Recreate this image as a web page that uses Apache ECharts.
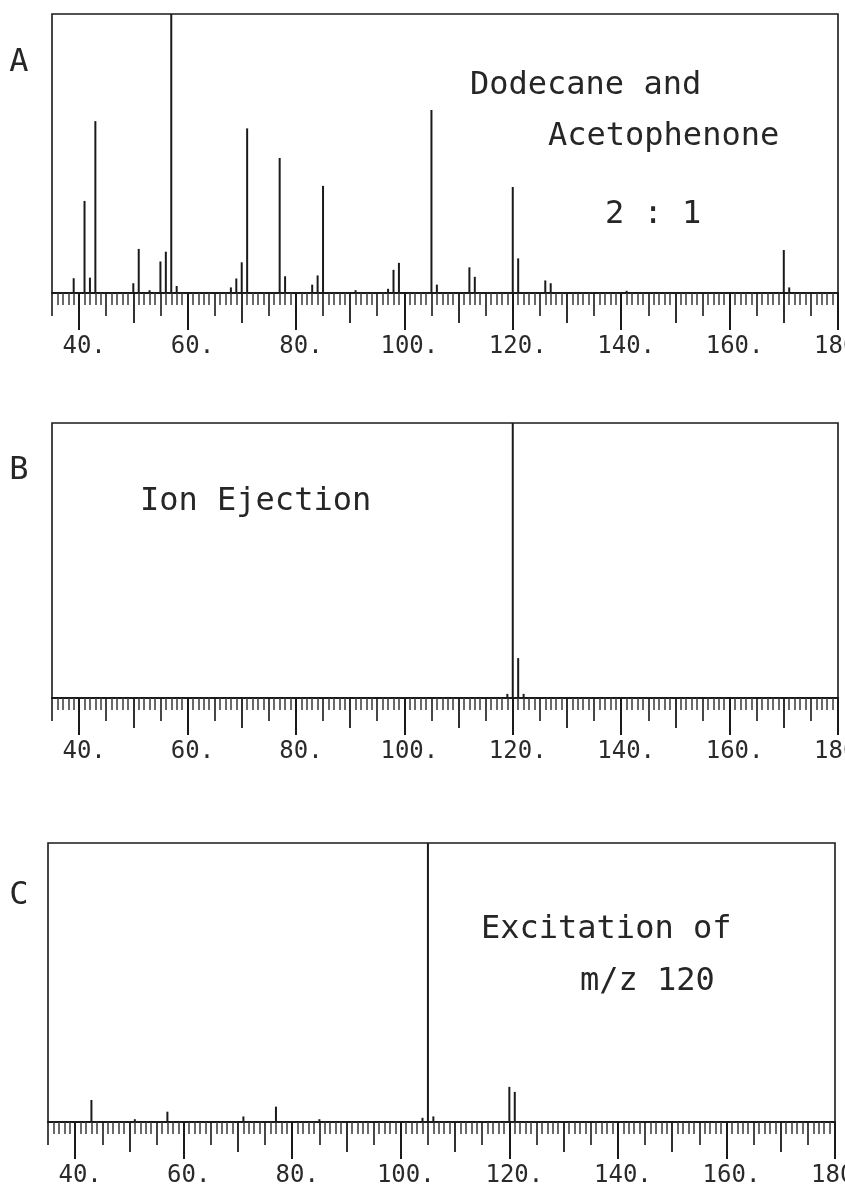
<!DOCTYPE html>
<html>
<head>
<meta charset="utf-8">
<script src="https://cdn.jsdelivr.net/npm/echarts@6/dist/echarts.min.js"></script>
<style>
html,body{margin:0;padding:0;background:#fff;}
#chart{width:845px;height:1192px;}
</style>
</head>
<body>
<div id="chart"></div>
<script>
// ---- Data (m/z, relative intensity %) ----
const mzA  = [39, 41, 42, 43, 50, 51, 53, 55, 56, 57, 58, 68, 69, 70, 71, 77, 78, 83, 84, 85, 91, 97, 98, 99, 105, 106, 112, 113, 120, 121, 126, 127, 141, 170, 171];
const intA = [5.3, 33, 5.5, 61.6, 3.5, 15.8, 1, 11.3, 14.8, 100, 2.5, 2, 5.2, 11, 59, 48.4, 6, 3, 6.3, 38.4, 1, 1.5, 8.3, 10.8, 65.6, 3, 9.2, 5.8, 38, 12.4, 4.5, 3.5, 0.8, 15.4, 2];

const mzB  = [119, 120, 121, 122];
const intB = [1.5, 100, 14.5, 1.5];

const mzC  = [43, 51, 57, 71, 77, 85, 104, 105, 106, 120, 121];
const intC = [7.9, 1, 3.7, 2, 5.5, 1, 1.5, 100, 2, 12.6, 10.8];

// ---- Axis ticks / labels ----
const xMin = 35, xMax = 180;
const tickLabels = [40, 60, 80, 100, 120, 140, 160, 180];
const ticks10 = [50, 70, 90, 110, 130, 150, 170];
const ticks5 = [35, 45, 55, 65, 75, 85, 95, 105, 115, 125, 135, 145, 155, 165, 175];
const ticks1 = [];
for (let v = xMin; v <= xMax; v++) { if (v % 5 !== 0) ticks1.push(v); }

const panelLetters = ['A', 'B', 'C'];

// ---- Layout ----
const grids = [
  {left: 52, right: 7,  top: 14,  height: 279},
  {left: 52, right: 7,  top: 423, height: 275},
  {left: 48, right: 10, top: 843, height: 279}
];
const mono = 'DejaVu Sans Mono';
const ink = '#1a1a1a';

const chart = echarts.init(document.getElementById('chart'), null, {renderer: 'canvas'});

const gridOpt = [], xAxes = [], yAxes = [], series = [];
const datasets = [[mzA, intA], [mzB, intB], [mzC, intC]];

function tickAxis(gi, vals, len, width, color, extra) {
  return Object.assign({
    type: 'value', gridIndex: gi, min: xMin, max: xMax, position: 'bottom',
    axisLine: {show: false, onZero: false},
    splitLine: {show: false},
    axisTick: {show: true, customValues: vals, length: len, lineStyle: {color: color, width: width}},
    axisLabel: {show: false}
  }, extra || {});
}

grids.forEach((g, gi) => {
  gridOpt.push(Object.assign({
    show: true, borderColor: ink, borderWidth: 1.6, backgroundColor: 'transparent',
    containLabel: false, outerBoundsMode: 'none'
  }, g));
  const mainIdx = xAxes.length;
  xAxes.push(tickAxis(gi, tickLabels, 37, 2, ink, {
    axisLine: {show: true, onZero: false, lineStyle: {color: ink, width: 2.2}},
    axisLabel: {
      show: true, customValues: tickLabels, margin: 42,
      fontFamily: mono, fontSize: 24, color: '#2a2a2a',
      padding: [0, 0, 0, 10],
      formatter: v => v + '.'
    }
  }));
  xAxes.push(tickAxis(gi, ticks10, 30, 1.8, ink));
  xAxes.push(tickAxis(gi, ticks5, 23, 1.6, ink));
  xAxes.push(tickAxis(gi, ticks1, 12, 1.5, '#3a3a3a'));
  yAxes.push({type: 'value', gridIndex: gi, min: 0, max: 100, show: false, splitLine: {show: false}});
  const [mz, inten] = datasets[gi];
  series.push({
    type: 'bar', xAxisIndex: mainIdx, yAxisIndex: gi,
    data: mz.map((m, i) => [m, inten[i]]),
    barWidth: 2, itemStyle: {color: ink}, silent: true
  });
});

const txt = (x, y, s, size, align) => ({
  type: 'text', x: x, y: y,
  style: {text: s, fontFamily: mono, fontSize: size, fill: '#262626', align: align || 'left', verticalAlign: 'middle'}
});

const graphics = [
  txt(19, 63, panelLetters[0], 32, 'center'),
  txt(19, 471, panelLetters[1], 32, 'center'),
  txt(19, 896, panelLetters[2], 32, 'center'),
  txt(470, 86, 'Dodecane and', 32),
  txt(548, 137, 'Acetophenone', 32),
  txt(605, 215, '2 : 1', 32),
  txt(140, 502, 'Ion Ejection', 32),
  txt(481, 930, 'Excitation of', 32),
  txt(580, 982, 'm/z 120', 32)
];

chart.setOption({
  animation: false,
  backgroundColor: '#ffffff',
  grid: gridOpt,
  xAxis: xAxes,
  yAxis: yAxes,
  series: series,
  graphic: graphics
});
</script>
</body>
</html>
